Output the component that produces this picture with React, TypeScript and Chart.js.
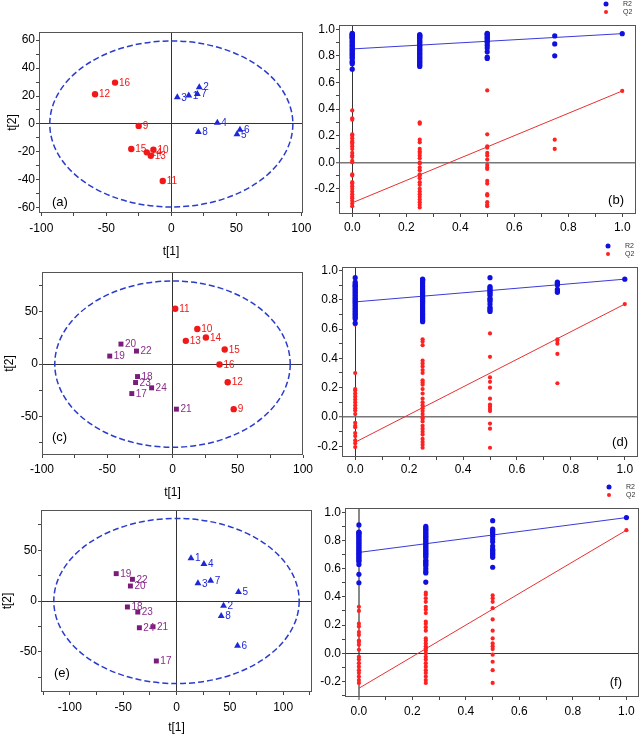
import React, { useEffect, useRef } from 'react';
import { Chart, registerables } from 'chart.js';

Chart.register(...registerables);
Chart.defaults.font.family = "'Liberation Sans', Arial, sans-serif";

// ---------------- Score plots (t[1] vs t[2]) ----------------
const A_TRI_IDS = ['1', '2', '3', '4', '5', '6', '7', '8'];
const A_TRI_X = [13.4, 21.5, 4.6, 35.4, 50.5, 52.8, 20.0, 20.8];
const A_TRI_Y = [20.3, 26.3, 19.1, 0.9, -7.4, -4.1, 21.5, -5.7];
const A_CIR_IDS = ['9', '10', '11', '12', '13', '14', '15', '16'];
const A_CIR_X = [-25.1, -13.8, -6.6, -58.7, -15.8, -18.9, -30.8, -43.3];
const A_CIR_Y = [-1.4, -18.4, -40.8, 21.3, -22.7, -20.3, -17.9, 29.6];
const A_ELLIPSE = [93.5, 59.4];

const C_CIR_IDS = ['9', '10', '11', '12', '13', '14', '15', '16'];
const C_CIR_X = [46.9, 19.0, 2.1, 42.3, 10.2, 25.6, 40.0, 36.0];
const C_CIR_Y = [-43.1, 33.6, 53.0, -17.3, 22.3, 25.5, 14.0, -0.4];
const C_SQ_IDS = ['17', '18', '19', '20', '21', '22', '23', '24'];
const C_SQ_X = [-31.2, -26.8, -48.1, -39.5, 3.0, -27.6, -28.3, -16.0];
const C_SQ_Y = [-28.2, -11.9, 7.7, 19.2, -43.1, 12.5, -17.6, -22.7];
const C_ELLIPSE = [90.2, 79.6];

const E_TRI_IDS = ['1', '2', '3', '4', '5', '6', '7', '8'];
const E_TRI_X = [13.6, 44.1, 20.1, 25.7, 58.1, 57.2, 32.0, 41.9];
const E_TRI_Y = [42.2, -4.6, 17.5, 36.5, 8.9, -44.1, 20.0, -14.8];
const E_SQ_IDS = ['17', '18', '19', '20', '21', '22', '23', '24'];
const E_SQ_X = [-18.9, -46.0, -56.5, -43.2, -22.0, -41.3, -36.3, -34.8];
const E_SQ_Y = [-59.2, -5.9, 27.0, 14.8, -25.4, 21.4, -10.9, -26.4];
const E_ELLIPSE = [115, 81.5];

const SCORE_X_LABELS = [-100, -50, 0, 50, 100];
const A_Y_LABELS = [-60, -40, -20, 0, 20, 40, 60];
const CE_Y_LABELS = [-50, 0, 50];

// ---------------- Permutation plots (R2 / Q2) ----------------
const PERM_LEVELS = [0, 0.25, 0.5, 0.75, 1];
const PERM_X_LABELS = [0, 0.2, 0.4, 0.6, 0.8, 1.0];
const PERM_Y_LABELS = [-0.2, 0, 0.2, 0.4, 0.6, 0.8, 1.0];

const B_R2_0 = [0.97, 0.965, 0.96, 0.955, 0.95, 0.945, 0.94, 0.935, 0.93, 0.92, 0.91, 0.9, 0.89, 0.88, 0.87, 0.86, 0.85, 0.84, 0.83, 0.82, 0.81, 0.8, 0.79, 0.78, 0.76, 0.75, 0.74, 0.7];
const B_R2_025 = [0.96, 0.955, 0.95, 0.945, 0.94, 0.93, 0.92, 0.91, 0.9, 0.89, 0.88, 0.87, 0.86, 0.85, 0.84, 0.83, 0.82, 0.81, 0.8, 0.79, 0.78, 0.77, 0.76, 0.75, 0.74, 0.73, 0.72];
const B_R2_05 = [0.97, 0.965, 0.96, 0.95, 0.94, 0.93, 0.92, 0.91, 0.9, 0.88, 0.86, 0.83, 0.79, 0.78];
const B_R2_075 = [0.95, 0.89, 0.8];
const B_R2_1 = [0.967];
const B_Q2_0 = [0.39, 0.33, 0.32, 0.21, 0.2, 0.18, 0.16, 0.15, 0.14, 0.12, 0.1, 0.07, 0.05, 0.04, 0.01, 0.0, -0.09, -0.1, -0.15, -0.16, -0.18, -0.2, -0.22, -0.24, -0.26, -0.27, -0.29, -0.31, -0.33];
const B_Q2_025 = [0.3, 0.29, 0.17, 0.15, 0.1, 0.08, 0.07, 0.05, 0.03, 0.0, -0.01, -0.04, -0.06, -0.09, -0.1, -0.12, -0.15, -0.17, -0.2, -0.22, -0.24, -0.26, -0.28, -0.3, -0.32, -0.34];
const B_Q2_05 = [0.54, 0.21, 0.12, 0.11, 0.07, 0.05, 0.02, -0.02, -0.04, -0.05, -0.14, -0.16, -0.24, -0.25, -0.3, -0.32, -0.33];
const B_Q2_075 = [0.17, 0.1];
const B_Q2_1 = [0.536];
const B_R2_LINE = [0.852, 0.967];
const B_Q2_LINE = [-0.305, 0.536];

const D_R2_0 = [0.95, 0.92, 0.91, 0.9, 0.895, 0.89, 0.88, 0.87, 0.86, 0.85, 0.84, 0.83, 0.82, 0.81, 0.8, 0.79, 0.78, 0.77, 0.76, 0.75, 0.74, 0.73, 0.72, 0.71, 0.7, 0.69, 0.68, 0.67, 0.64];
const D_R2_025 = [0.94, 0.935, 0.93, 0.92, 0.91, 0.9, 0.89, 0.88, 0.87, 0.86, 0.85, 0.84, 0.83, 0.82, 0.81, 0.8, 0.79, 0.78, 0.77, 0.76, 0.75, 0.74, 0.73, 0.72, 0.71, 0.7, 0.69, 0.68, 0.67, 0.66, 0.65];
const D_R2_05 = [0.95, 0.89, 0.88, 0.87, 0.86, 0.85, 0.84, 0.83, 0.81, 0.8, 0.79, 0.77, 0.75, 0.74, 0.73, 0.72];
const D_R2_075 = [0.92, 0.915, 0.91, 0.9, 0.87, 0.86, 0.85];
const D_R2_1 = [0.94];
const D_Q2_0 = [0.63, 0.3, 0.19, 0.18, 0.16, 0.14, 0.12, 0.1, 0.08, 0.06, 0.045, 0.02, -0.04, -0.06, -0.07, -0.11, -0.13, -0.16, -0.18, -0.205];
const D_Q2_025 = [0.53, 0.515, 0.49, 0.385, 0.365, 0.345, 0.32, 0.3, 0.25, 0.235, 0.22, 0.19, 0.16, 0.125, 0.1, 0.08, 0.06, 0.04, 0.02, 0.0, -0.01, -0.03, -0.06, -0.08, -0.1, -0.12, -0.15, -0.17, -0.19, -0.21];
const D_Q2_05 = [0.57, 0.41, 0.27, 0.24, 0.2, 0.125, 0.085, 0.07, 0.055, 0.04, -0.045, -0.08, -0.21];
const D_Q2_075 = [0.53, 0.52, 0.5, 0.43, 0.23];
const D_Q2_1 = [0.77];
const D_R2_LINE = [0.785, 0.94];
const D_Q2_LINE = [-0.172, 0.77];

const F_R2_0 = [0.91, 0.86, 0.855, 0.85, 0.84, 0.83, 0.82, 0.81, 0.8, 0.79, 0.78, 0.77, 0.76, 0.75, 0.74, 0.73, 0.72, 0.71, 0.7, 0.69, 0.68, 0.67, 0.66, 0.65, 0.63, 0.56, 0.5];
const F_R2_025 = [0.9, 0.89, 0.88, 0.87, 0.86, 0.85, 0.84, 0.83, 0.82, 0.81, 0.8, 0.79, 0.78, 0.77, 0.76, 0.75, 0.74, 0.73, 0.72, 0.71, 0.7, 0.69, 0.68, 0.66, 0.65, 0.64, 0.63, 0.62, 0.6, 0.58, 0.57, 0.505];
const F_R2_05 = [0.94, 0.88, 0.87, 0.86, 0.85, 0.83, 0.81, 0.79, 0.76, 0.74, 0.73, 0.72, 0.71, 0.7, 0.69, 0.68, 0.61];
const F_R2_075: number[] = [];
const F_R2_1 = [0.962];
const F_Q2_0 = [0.33, 0.3, 0.21, 0.19, 0.15, 0.13, 0.09, 0.08, 0.06, 0.025, -0.025, -0.045, -0.07, -0.095, -0.12, -0.14, -0.165, -0.19, -0.21];
const F_Q2_025 = [0.5, 0.43, 0.415, 0.39, 0.365, 0.33, 0.31, 0.285, 0.225, 0.21, 0.185, 0.16, 0.105, 0.09, 0.07, 0.05, 0.035, 0.02, 0.0, -0.025, -0.045, -0.07, -0.095, -0.12, -0.14, -0.165, -0.19, -0.21];
const F_Q2_05 = [0.41, 0.39, 0.365, 0.32, 0.24, 0.16, 0.105, 0.07, 0.05, 0.03, -0.01, -0.06, -0.12, -0.21];
const F_Q2_075: number[] = [];
const F_Q2_1 = [0.873];
const F_R2_LINE = [0.715, 0.962];
const F_Q2_LINE = [-0.248, 0.873];

// ---------------- colours ----------------
const RED = '#f01818';
const BLUE = '#1f28d8';
const PURPLE = '#7b1c7b';
const ELLIPSE_COLOR = '#2a3ccc';
const R2_COLOR = '#1010e0';
const Q2_COLOR = '#ff2222';

const near = (a: number, b: number) => Math.abs(a - b) < 1e-6;

function tickValues(min: number, max: number, step: number) {
  const out: number[] = [];
  const start = Math.ceil(min / step - 1e-9);
  for (let k = start; k * step <= max + 1e-9; k++) out.push(Math.round(k * step * 1000) / 1000);
  return out;
}

function axis(o: any) {
  const all = tickValues(o.min, o.max, o.step);
  return {
    type: 'linear',
    min: o.min,
    max: o.max,
    bounds: 'data',
    afterBuildTicks: (s: any) => {
      s.ticks = all.map((v) => ({ value: v }));
    },
    afterFit: (s: any) => {
      if (o.horizontal) s.height = o.size;
      else s.width = o.size;
      s.paddingLeft = 0;
      s.paddingRight = 0;
      s.paddingTop = 0;
      s.paddingBottom = 0;
    },
    ticks: {
      autoSkip: false,
      maxRotation: 0,
      minRotation: 0,
      padding: o.tickPad,
      color: '#000',
      font: { size: 12 },
      callback: (v: number) => (o.labels.some((m: number) => near(m, v)) ? o.fmt(v) : ''),
    },
    grid: {
      drawOnChartArea: true,
      drawTicks: true,
      tickLength: 3,
      tickColor: '#444',
      tickWidth: 1,
      color: (c: any) => (c.tick && Math.abs(c.tick.value) < 1e-9 ? o.zeroColor : 'rgba(0,0,0,0)'),
      lineWidth: (c: any) => (c.tick && Math.abs(c.tick.value) < 1e-9 ? o.zeroWidth : 1),
    },
    border: { display: false },
    title: o.title
      ? {
          display: true,
          text: o.title,
          color: '#000',
          font: { size: 12 },
          padding: { top: o.titlePad, bottom: o.titlePad },
        }
      : { display: false },
  };
}

const framePlugin = {
  id: 'frame',
  afterDraw(chart: any) {
    const { ctx, chartArea: a } = chart;
    ctx.save();
    ctx.strokeStyle = '#555';
    ctx.lineWidth = 1;
    ctx.strokeRect(a.left + 0.5, a.top + 0.5, a.right - a.left - 1, a.bottom - a.top - 1);
    ctx.restore();
  },
};

function tagPlugin(tag: any) {
  return {
    id: 'tag',
    afterDraw(chart: any) {
      const { ctx, chartArea: a } = chart;
      ctx.save();
      ctx.font = "13px 'Liberation Sans', Arial, sans-serif";
      ctx.fillStyle = '#000';
      ctx.textBaseline = 'middle';
      if (tag.right != null) {
        ctx.textAlign = 'right';
        ctx.fillText(tag.text, a.right - tag.right, a.bottom - tag.bottom);
      } else {
        ctx.textAlign = 'left';
        ctx.fillText(tag.text, a.left + tag.left, a.bottom - tag.bottom);
      }
      ctx.restore();
    },
  };
}

function ellipsePlugin(radii: number[]) {
  return {
    id: 'ellipse',
    beforeDatasetsDraw(chart: any) {
      const { ctx } = chart;
      const xs = chart.scales.x;
      const ys = chart.scales.y;
      const cx = xs.getPixelForValue(0);
      const cy = ys.getPixelForValue(0);
      const rx = Math.abs(xs.getPixelForValue(radii[0]) - cx);
      const ry = Math.abs(ys.getPixelForValue(radii[1]) - cy);
      ctx.save();
      ctx.strokeStyle = ELLIPSE_COLOR;
      ctx.lineWidth = 1.5;
      ctx.setLineDash([6, 3]);
      ctx.beginPath();
      ctx.ellipse(cx, cy, rx, ry, 0, 0, Math.PI * 2);
      ctx.stroke();
      ctx.restore();
    },
  };
}

const pointLabelPlugin = {
  id: 'pointLabels',
  afterDatasetsDraw(chart: any) {
    const { ctx } = chart;
    ctx.save();
    ctx.font = "10px 'Liberation Sans', Arial, sans-serif";
    ctx.textBaseline = 'middle';
    ctx.textAlign = 'left';
    chart.data.datasets.forEach((ds: any, i: number) => {
      if (!ds.ids) return;
      const meta = chart.getDatasetMeta(i);
      ctx.fillStyle = ds.labelColor;
      meta.data.forEach((el: any, j: number) => {
        ctx.fillText(ds.ids[j], el.x + 4, el.y + 0.5);
      });
    });
    ctx.restore();
  },
};

const legendPlugin = {
  id: 'permLegend',
  afterDraw(chart: any) {
    const { ctx, chartArea: a } = chart;
    const items = [
      { text: 'R2', color: R2_COLOR, r: 2.5, dy: 21 },
      { text: 'Q2', color: Q2_COLOR, r: 2, dy: 13 },
    ];
    ctx.save();
    ctx.font = "7px 'Liberation Sans', Arial, sans-serif";
    ctx.textBaseline = 'middle';
    ctx.textAlign = 'left';
    items.forEach((it) => {
      ctx.fillStyle = it.color;
      ctx.beginPath();
      ctx.arc(a.right - 30, a.top - it.dy, it.r, 0, Math.PI * 2);
      ctx.fill();
      ctx.fillStyle = '#333';
      ctx.fillText(it.text, a.right - 13, a.top - it.dy + 0.5);
    });
    ctx.restore();
  },
};

const BASE_OPTIONS = {
  responsive: false,
  maintainAspectRatio: false,
  animation: false,
  devicePixelRatio: 1,
  events: [],
  plugins: { legend: { display: false }, tooltip: { enabled: false } },
};

function buildScore(canvas: HTMLCanvasElement, p: any) {
  const datasets = p.series.map((s: any) => ({
    data: s.xs.map((x: number, i: number) => ({ x, y: s.ys[i] })),
    ids: s.ids,
    labelColor: s.labelColor,
    pointStyle: s.style,
    pointRadius: s.radius,
    backgroundColor: s.color,
    borderColor: s.color,
    borderWidth: 0,
  }));
  return new Chart(canvas, {
    type: 'scatter',
    data: { datasets },
    options: {
      ...BASE_OPTIONS,
      layout: { padding: { top: p.plot.T - p.box.y, right: p.box.x + p.box.w - p.plot.R, left: 0, bottom: 0 } },
      scales: {
        x: axis({ ...p.x, horizontal: true, size: p.box.y + p.box.h - p.plot.B, zeroColor: '#333', zeroWidth: 1, title: 't[1]' }),
        y: axis({ ...p.y, horizontal: false, size: p.plot.L - p.box.x, zeroColor: '#333', zeroWidth: 1, title: 't[2]' }),
      },
    } as any,
    plugins: [ellipsePlugin(p.ellipse), framePlugin, pointLabelPlugin, tagPlugin(p.tag)],
  });
}

function columnPoints(cols: number[][]) {
  const pts: { x: number; y: number }[] = [];
  cols.forEach((col, i) => col.forEach((v) => pts.push({ x: PERM_LEVELS[i], y: v })));
  return pts;
}

function buildPerm(canvas: HTMLCanvasElement, p: any) {
  const datasets = [
    { data: columnPoints(p.r2), pointStyle: 'circle', pointRadius: 2.6, backgroundColor: R2_COLOR, borderWidth: 0 },
    { data: columnPoints(p.q2), pointStyle: 'circle', pointRadius: 2.1, backgroundColor: Q2_COLOR, borderWidth: 0 },
    {
      data: [{ x: 0, y: p.r2Line[0] }, { x: 1, y: p.r2Line[1] }],
      showLine: true, pointRadius: 0, borderColor: '#3a3ad8', borderWidth: 1,
    },
    {
      data: [{ x: 0, y: p.q2Line[0] }, { x: 1, y: p.q2Line[1] }],
      showLine: true, pointRadius: 0, borderColor: '#e83030', borderWidth: 1,
    },
  ];
  const fmt = (v: number) => v.toFixed(1);
  return new Chart(canvas, {
    type: 'scatter',
    data: { datasets },
    options: {
      ...BASE_OPTIONS,
      layout: { padding: { top: p.plot.T - p.box.y, right: p.box.x + p.box.w - p.plot.R, left: 0, bottom: 0 } },
      scales: {
        x: axis({ ...p.x, labels: PERM_X_LABELS, step: 0.1, fmt, horizontal: true, size: p.box.y + p.box.h - p.plot.B, zeroColor: p.vZero[0], zeroWidth: p.vZero[1] }),
        y: axis({ ...p.y, labels: PERM_Y_LABELS, step: 0.1, fmt, tickPad: 1, horizontal: false, size: p.plot.L - p.box.x, zeroColor: p.hZero[0], zeroWidth: p.hZero[1] }),
      },
    } as any,
    plugins: [framePlugin, legendPlugin, tagPlugin(p.tag)],
  });
}

const intFmt = (v: number) => String(Math.round(v));

const PANELS: any[] = [
  {
    kind: 'score',
    box: { x: 0, y: 0, w: 320, h: 262 },
    plot: { L: 39, T: 32, R: 303, B: 213 },
    x: { min: -101.8, max: 101.3, step: 25, labels: SCORE_X_LABELS, fmt: intFmt, tickPad: 5.5, titlePad: 2.8 },
    y: { min: -63.7, max: 65.8, step: 10, labels: A_Y_LABELS, fmt: intFmt, tickPad: 1, titlePad: 5.8 },
    ellipse: A_ELLIPSE,
    tag: { text: '(a)', left: 13, bottom: 11 },
    series: [
      { ids: A_TRI_IDS, xs: A_TRI_X, ys: A_TRI_Y, style: 'triangle', radius: 4, color: BLUE, labelColor: BLUE },
      { ids: A_CIR_IDS, xs: A_CIR_X, ys: A_CIR_Y, style: 'circle', radius: 3.2, color: RED, labelColor: RED },
    ],
  },
  {
    kind: 'perm',
    box: { x: 310, y: 0, w: 333, h: 240 },
    plot: { L: 339, T: 25, R: 636, B: 214 },
    x: { min: -0.049, max: 1.051, tickPad: 3.8 },
    y: { min: -0.389, max: 1.032 },
    r2: [B_R2_0, B_R2_025, B_R2_05, B_R2_075, B_R2_1],
    q2: [B_Q2_0, B_Q2_025, B_Q2_05, B_Q2_075, B_Q2_1],
    r2Line: B_R2_LINE,
    q2Line: B_Q2_LINE,
    vZero: ['#333', 1],
    hZero: ['#777', 1.5],
    tag: { text: '(b)', right: 12, bottom: 14 },
  },
  {
    kind: 'score',
    box: { x: 0, y: 240, w: 320, h: 262 },
    plot: { L: 42, T: 272, R: 303, B: 455 },
    x: { min: -100, max: 100, step: 25, labels: SCORE_X_LABELS, fmt: intFmt, tickPad: 4.8, titlePad: 2.3 },
    y: { min: -87, max: 88.2, step: 25, labels: CE_Y_LABELS, fmt: intFmt, tickPad: 1, titlePad: 2.8 },
    ellipse: C_ELLIPSE,
    tag: { text: '(c)', left: 10, bottom: 18 },
    series: [
      { ids: C_CIR_IDS, xs: C_CIR_X, ys: C_CIR_Y, style: 'circle', radius: 3.2, color: RED, labelColor: RED },
      { ids: C_SQ_IDS, xs: C_SQ_X, ys: C_SQ_Y, style: 'rect', radius: 3.5, color: PURPLE, labelColor: '#8a2d8a' },
    ],
  },
  {
    kind: 'perm',
    box: { x: 310, y: 240, w: 333, h: 240 },
    plot: { L: 342, T: 267, R: 638, B: 457 },
    x: { min: -0.049, max: 1.049, tickPad: 2.8 },
    y: { min: -0.273, max: 1.023 },
    r2: [D_R2_0, D_R2_025, D_R2_05, D_R2_075, D_R2_1],
    q2: [D_Q2_0, D_Q2_025, D_Q2_05, D_Q2_075, D_Q2_1],
    r2Line: D_R2_LINE,
    q2Line: D_Q2_LINE,
    vZero: ['#333', 1],
    hZero: ['#777', 1.5],
    tag: { text: '(d)', right: 10, bottom: 15 },
  },
  {
    kind: 'score',
    box: { x: 0, y: 480, w: 320, h: 255 },
    plot: { L: 41, T: 510, R: 312, B: 692 },
    x: { min: -127, max: 127, step: 25, labels: SCORE_X_LABELS, fmt: intFmt, tickPad: 5, titlePad: 0 },
    y: { min: -89.8, max: 89.8, step: 25, labels: CE_Y_LABELS, fmt: intFmt, tickPad: 1, titlePad: 0 },
    ellipse: E_ELLIPSE,
    tag: { text: '(e)', left: 13, bottom: 19 },
    series: [
      { ids: E_TRI_IDS, xs: E_TRI_X, ys: E_TRI_Y, style: 'triangle', radius: 4, color: BLUE, labelColor: BLUE },
      { ids: E_SQ_IDS, xs: E_SQ_X, ys: E_SQ_Y, style: 'rect', radius: 3.5, color: PURPLE, labelColor: '#8a2d8a' },
    ],
  },
  {
    kind: 'perm',
    box: { x: 310, y: 480, w: 333, h: 255 },
    plot: { L: 345, T: 508, R: 641, B: 697 },
    x: { min: -0.052, max: 1.047, tickPad: 4.5 },
    y: { min: -0.31, max: 1.03 },
    r2: [F_R2_0, F_R2_025, F_R2_05, F_R2_075, F_R2_1],
    q2: [F_Q2_0, F_Q2_025, F_Q2_05, F_Q2_075, F_Q2_1],
    r2Line: F_R2_LINE,
    q2Line: F_Q2_LINE,
    vZero: ['#888', 2],
    hZero: ['#333', 1],
    tag: { text: '(f)', right: 17, bottom: 15 },
  },
];

function Panel({ p }: { p: any }) {
  const ref = useRef<HTMLCanvasElement | null>(null);
  useEffect(() => {
    if (!ref.current) return;
    const chart = p.kind === 'score' ? buildScore(ref.current, p) : buildPerm(ref.current, p);
    return () => chart.destroy();
  }, [p]);
  return (
    <canvas
      ref={ref}
      width={p.box.w}
      height={p.box.h}
      style={{ position: 'absolute', left: p.box.x, top: p.box.y, width: p.box.w, height: p.box.h }}
    />
  );
}

export default function App() {
  return (
    <div style={{ position: 'absolute', left: 0, top: 0, width: 643, height: 735, background: '#fff', overflow: 'hidden' }}>
      {PANELS.map((p, i) => (
        <Panel key={i} p={p} />
      ))}
    </div>
  );
}
